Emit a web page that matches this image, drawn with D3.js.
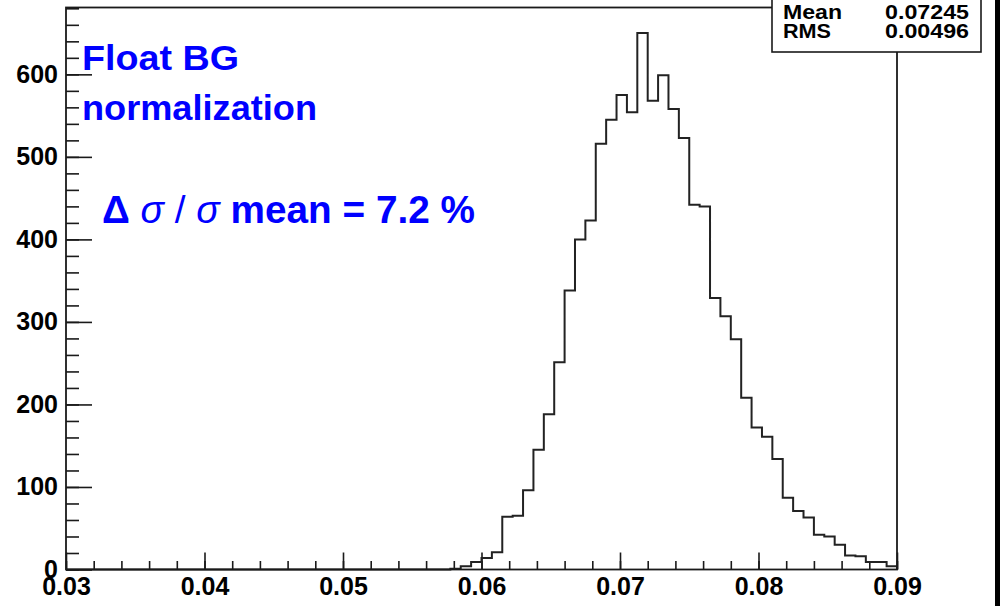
<!DOCTYPE html>
<html>
<head>
<meta charset="utf-8">
<script src="https://cdn.jsdelivr.net/npm/d3@7"></script>
<style>
body { margin: 0; background: #fff; }
.axis text { font-family: "Liberation Sans", Arial, sans-serif; font-weight: bold; font-size: 25px; fill: #000; }
.axis line { stroke: #1a1a1a; stroke-width: 1.6; }
.axis path { display: none; }
.stat { font-family: "Liberation Sans", Arial, sans-serif; font-weight: bold; font-size: 20px; fill: #000; }
.label { font-family: "Liberation Sans", Arial, sans-serif; font-weight: bold; fill: #0000ff; }
</style>
</head>
<body>
<div id="chart"></div>
<script>
// histogram, 80 bins between x_low and x_high
const x_low = 0.03
const x_high = 0.09
const bin_counts = [
  0, 0, 0, 0, 0, 0, 0, 0, 0, 0,
  0, 0, 0, 0, 0, 0, 0, 0, 0, 0,
  0, 0, 0, 0, 0, 0, 0, 0, 0, 0,
  0, 0, 0, 0, 0, 0, 0, 1, 4, 9,
  14, 21, 64, 65, 96, 145, 188, 251, 338, 400,
  423, 516, 545, 575, 554, 650, 568, 599, 558, 523,
  442, 440, 329, 307, 279, 208, 172, 161, 134, 87,
  71, 63, 42, 40, 30, 17, 16, 9, 9, 4
]
const x_major_ticks = [0.03, 0.04, 0.05, 0.06, 0.07, 0.08, 0.09]
const x_tick_labels = ["0.03", "0.04", "0.05", "0.06", "0.07", "0.08", "0.09"]
const y_major_ticks = [0, 100, 200, 300, 400, 500, 600]
const y_tick_labels = ["0", "100", "200", "300", "400", "500", "600"]
const y_max = 681
const stat_names = ["Mean", "RMS"]
const stat_values = ["0.07245", "0.00496"]
const note_lines = ["Float BG", "normalization"]

var width = 1000, height = 606
// plot frame in pixels (note: "top" is taken by window.top)
var frame = {left: 66, right: 897, top: 7.5, bottom: 569.5}

var svg = d3.select("#chart").append("svg")
    .attr("width", width)
    .attr("height", height)

var xScale = d3.scaleLinear().domain([x_low, x_high]).range([frame.left, frame.right])
var yScale = d3.scaleLinear().domain([0, y_max]).range([frame.bottom, frame.top])

// minor ticks first, majors on top
var x_minor = d3.range(x_low, x_high + 1e-9, 0.002)
var y_minor = d3.range(0, y_max, 20)

svg.append("g")
    .attr("class", "axis")
    .attr("transform", "translate(0," + frame.bottom + ")")
    .call(d3.axisBottom(xScale).tickValues(x_minor).tickSize(-8.5).tickFormat(""))

svg.append("g")
    .attr("class", "axis")
    .attr("transform", "translate(0," + frame.bottom + ")")
    .call(d3.axisBottom(xScale).tickValues(x_major_ticks).tickSize(-17).tickPadding(8)
        .tickFormat(function(d, i) { return x_tick_labels[i] }))

svg.append("g")
    .attr("class", "axis")
    .attr("transform", "translate(" + frame.left + ",0)")
    .call(d3.axisLeft(yScale).tickValues(y_minor).tickSize(-13).tickFormat(""))

svg.append("g")
    .attr("class", "axis")
    .attr("transform", "translate(" + frame.left + ",0)")
    .call(d3.axisLeft(yScale).tickValues(y_major_ticks).tickSize(-26).tickPadding(8)
        .tickFormat(function(d, i) { return y_tick_labels[i] }))

// step outline of the histogram
var bin_w = (x_high - x_low) / bin_counts.length
var pts = [[x_low, 0]]
bin_counts.forEach(function(c, i) {
    pts.push([x_low + i * bin_w, c])
    pts.push([x_low + (i + 1) * bin_w, c])
})
pts.push([x_high, 0])

var line = d3.line()
    .x(function(d) { return xScale(d[0]) })
    .y(function(d) { return yScale(d[1]) })

svg.append("path")
    .datum(pts)
    .attr("fill", "none")
    .attr("stroke", "#222")
    .attr("stroke-width", 2)
    .attr("d", line)

// frame
svg.append("rect")
    .attr("x", frame.left).attr("y", frame.top)
    .attr("width", frame.right - frame.left).attr("height", frame.bottom - frame.top)
    .attr("fill", "none")
    .attr("stroke", "#1a1a1a")
    .attr("stroke-width", 1.8)

// stats box (its top is cut off in the picture)
var stats = svg.append("g")
stats.append("rect")
    .attr("x", 772).attr("y", -20)
    .attr("width", 209).attr("height", 72)
    .attr("fill", "#fff")
    .attr("stroke", "#1a1a1a")
    .attr("stroke-width", 1.6)
stats.selectAll(".sname")
    .data(stat_names)
  .enter().append("text")
    .attr("class", "stat sname")
    .attr("x", 783)
    .attr("y", function(d, i) { return 18.5 + i * 19 })
    .attr("textLength", function(d, i) { return i == 0 ? 59 : 48 })
    .attr("lengthAdjust", "spacingAndGlyphs")
    .text(function(d) { return d })
stats.selectAll(".sval")
    .data(stat_values)
  .enter().append("text")
    .attr("class", "stat sval")
    .attr("x", 885)
    .attr("y", function(d, i) { return 18.5 + i * 19 })
    .attr("textLength", 84)
    .attr("lengthAdjust", "spacingAndGlyphs")
    .text(function(d) { return d })

// blue annotation
svg.selectAll(".note")
    .data(note_lines)
  .enter().append("text")
    .attr("class", "label note")
    .attr("x", 82)
    .attr("y", function(d, i) { return 70 + i * 50 })
    .attr("font-size", 35)
    .attr("textLength", function(d, i) { return i == 0 ? 157 : 235 })
    .attr("lengthAdjust", "spacingAndGlyphs")
    .text(function(d) { return d })

var formula = svg.append("text")
    .attr("class", "label")
    .attr("x", 102)
    .attr("y", 223)
    .attr("font-size", 38)
    .attr("textLength", 373)
    .attr("lengthAdjust", "spacingAndGlyphs")
formula.append("tspan").text("\u0394 ")
formula.append("tspan").attr("font-style", "italic").attr("font-weight", "normal").text("\u03c3")
formula.append("tspan").attr("font-weight", "normal").text(" / ")
formula.append("tspan").attr("font-style", "italic").attr("font-weight", "normal").text("\u03c3")
formula.append("tspan").text(" mean = 7.2 %")

// dark strip on the right edge
svg.append("rect")
    .attr("x", 995).attr("y", 0)
    .attr("width", 5).attr("height", height)
    .attr("fill", "#000")
</script>
</body>
</html>
